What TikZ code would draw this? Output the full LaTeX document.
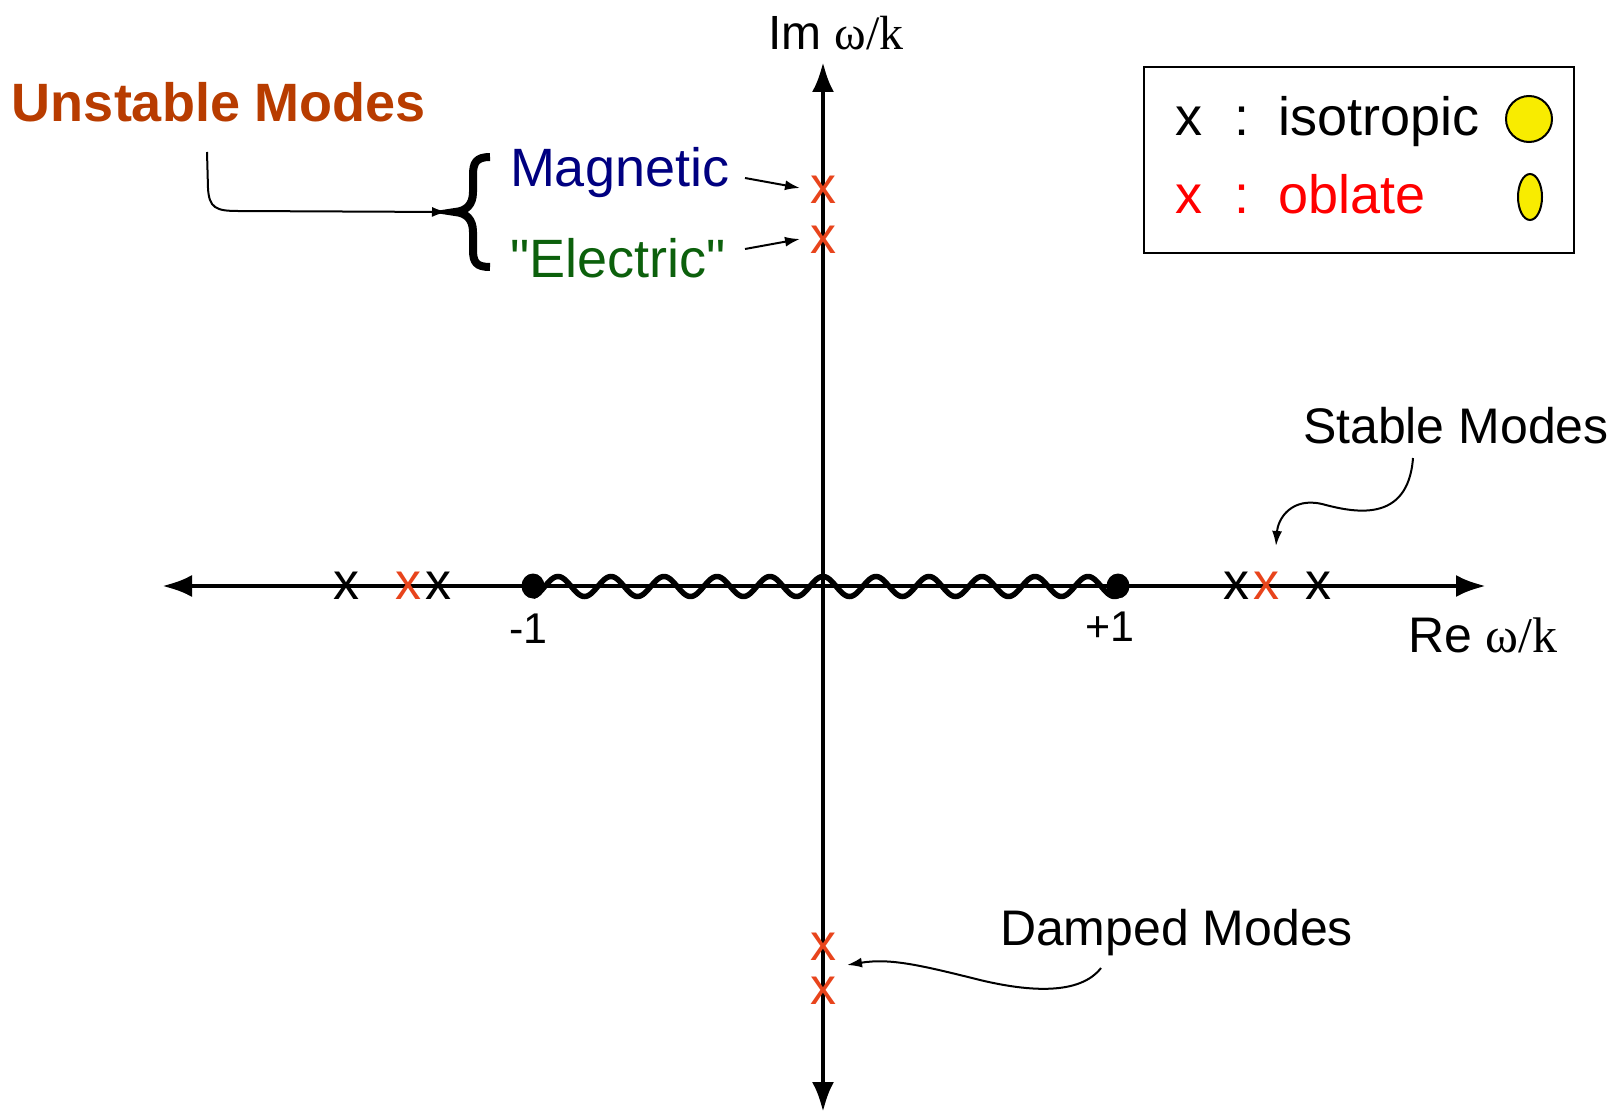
\documentclass[tikz,border=0pt]{standalone}
\usepackage{fontspec}
\setmainfont{Liberation Sans}
\newfontfamily\plainfont{Liberation Sans}
\newfontfamily\seriffont{Liberation Serif}
\usetikzlibrary{arrows.meta}
\definecolor{unstc}{RGB}{184,60,0}
\definecolor{magc}{RGB}{0,0,128}
\definecolor{elec}{RGB}{12,96,12}
\definecolor{xred}{RGB}{232,68,28}
\definecolor{legred}{RGB}{255,0,0}
\definecolor{yel}{RGB}{248,236,0}
\newcommand{\fsz}[1]{\fontsize{#1}{#1}\selectfont}
\tikzset{
  txt/.style={inner sep=0pt, outer sep=0pt, anchor=base west},
  axisline/.style={line width=4.5pt, {Latex[length=30pt,width=22pt]}-{Latex[length=30pt,width=22pt]}},
  annot/.style={line width=2pt, -{Latex[length=15pt,width=10pt]}},
  xmark/.style={inner sep=0pt, outer sep=0pt, font=\fsz{52}},
  isomark/.style={xmark, text=black},
  oblmark/.style={xmark, text=xred},
}
\begin{document}
\begin{tikzpicture}[x=1pt,y=-1pt]
\useasboundingbox (0,0) rectangle (1623,1113);
% axes
\coordinate (ltip) at (162,586);
\coordinate (rtip) at (1486,586);
\coordinate (ttip) at (823,62);
\coordinate (btip) at (823,1112);
\draw[axisline] (ltip) -- (rtip);
\draw[axisline] (btip) -- (ttip);
% axis labels
\node[txt, font=\fsz{48}] (imlab) at (768,50) {Im {\seriffont ω/k}};
\node[txt, font=\fsz{50}] (relab) at (1408,652) {Re {\seriffont ω/k}};
% branch cut
\draw[line width=5.5pt] plot[domain=533:1118, samples=400, smooth] (\x,{586.5-10*cos(6.79245*(\x-823))});
\fill (533,586) ellipse (11.5pt and 12.5pt);
\fill (1118,586) ellipse (11.5pt and 12.5pt);
\node[txt, font=\fsz{43}] (m1) at (509,643) {-1};
\node[txt, font=\fsz{43}] (p1) at (1085,641) {+1};
% modes on real axis
\node[isomark] (l1) at (346,586) {x};
\node[oblmark] (l2) at (408,586) {x};
\node[isomark] (l3) at (438,586) {x};
\node[isomark] (r1) at (1236,586) {x};
\node[oblmark] (r2) at (1266,586) {x};
\node[isomark] (r3) at (1318,586) {x};
% modes on imaginary axis
\node[oblmark] (u1) at (823,190) {x};
\node[oblmark] (u2) at (823,240) {x};
\node[oblmark] (d1) at (823,947) {x};
\node[oblmark] (d2) at (823,991) {x};
% unstable
\node[txt, font=\fsz{54}\bfseries, text=unstc] (unst) at (12,122) {Unstable Modes};
\node[txt, font=\plainfont\fsz{54}, text=magc] (magn) at (510,186) {Magnetic};
\node[txt, font=\plainfont\fsz{54}, text=elec] (elect) at (510,277) {"Electric"};
\draw[line width=8pt] (490,157) .. controls (476,157) and (473,163) .. (473,175) -- (473,192) .. controls (473,205) and (466,211) .. (455,212) .. controls (466,213) and (473,219) .. (473,232) -- (473,250) .. controls (473,262) and (476,267) .. (490,267);
\coordinate (us) at (207,152);
\coordinate (bt) at (447,212);
\draw[annot] (us) -- (208,188) .. controls (209,208) and (216,211) .. (238,211) -- (bt);
\coordinate (ms) at (745,178);
\coordinate (me) at (800,188);
\draw[annot] (ms) -- (me);
\coordinate (es) at (745,249);
\coordinate (ee) at (800,239);
\draw[annot] (es) -- (ee);
% stable
\node[txt, font=\fsz{50}] (stab) at (1303,443) {Stable Modes};
\coordinate (ss) at (1413,458);
\coordinate (se) at (1276,546);
\draw[annot] (ss) .. controls (1408,525) and (1352,512) .. (1322,504) .. controls (1292,497) and (1278,518) .. (se);
% damped
\node[txt, font=\fsz{50}] (damp) at (1000,945) {Damped Modes};
\coordinate (ds) at (1101,968);
\coordinate (de) at (847,965);
\draw[annot] (ds) .. controls (1080,995) and (1030,992) .. (980,980) .. controls (920,965) and (890,958) .. (de);
% legend
\draw[line width=2.5pt] (1144,67) rectangle (1574,253);
\node[txt, font=\fsz{54}] (lx1) at (1175,136) {x};
\node[txt, font=\fsz{54}] (lc1) at (1234,136) {:};
\node[txt, font=\fsz{54}] (liso) at (1278,136) {isotropic};
\node[txt, font=\fsz{54}, text=legred] (lx2) at (1175,213) {x};
\node[txt, font=\fsz{54}, text=legred] (lc2) at (1234,213) {:};
\node[txt, font=\fsz{54}, text=legred] (lobl) at (1278,213) {oblate};
\draw[line width=2pt, fill=yel] (1529,119) circle (23pt);
\draw[line width=2pt, fill=yel] (1530,197) ellipse (12pt and 23pt);
\end{tikzpicture}
\end{document}
